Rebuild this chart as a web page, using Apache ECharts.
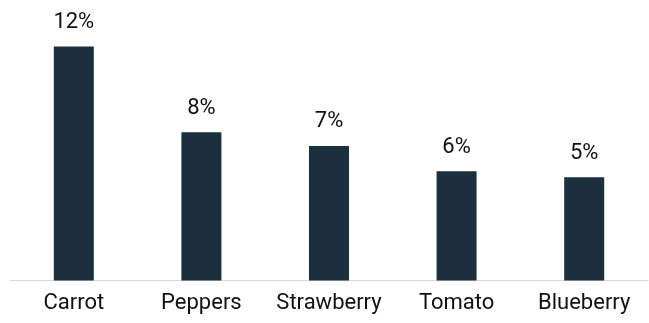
<!DOCTYPE html>
<html><head><meta charset="utf-8">
<script src="https://cdn.jsdelivr.net/npm/echarts@6/dist/echarts.min.js"></script>
<style>html,body{margin:0;padding:0;background:#fff}#c{width:649px;height:323px}</style>
</head><body><div id="c"></div>
<script>
const categories = ["Carrot", "Peppers", "Strawberry", "Tomato", "Blueberry"];
const values = [0.12, 0.076, 0.069, 0.056, 0.053];

const chart = echarts.init(document.getElementById('c'), null, {renderer: 'canvas'});
chart.setOption({
  animation: false,
  grid: {left: 10, right: 1, top: 46.5, bottom: 42.5, containLabel: false},
  xAxis: {
    type: 'category', data: categories,
    axisLine: {show: true, lineStyle: {color: '#d9d9d9', width: 1}},
    axisTick: {show: false},
    axisLabel: {color: '#111111', fontFamily: 'Roboto', fontSize: 22, margin: 12, interval: 0}
  },
  yAxis: {type: 'value', min: 0, max: 0.12, show: false, splitLine: {show: false}},
  series: [{
    type: 'bar', data: values, barWidth: 40,
    itemStyle: {color: '#1b2f3d'},
    label: {show: true, position: 'top', distance: 13, color: '#111111', fontFamily: 'Roboto', fontSize: 22,
      formatter: p => Math.round(p.value * 100) + '%'}
  }]
});
</script></body></html>
